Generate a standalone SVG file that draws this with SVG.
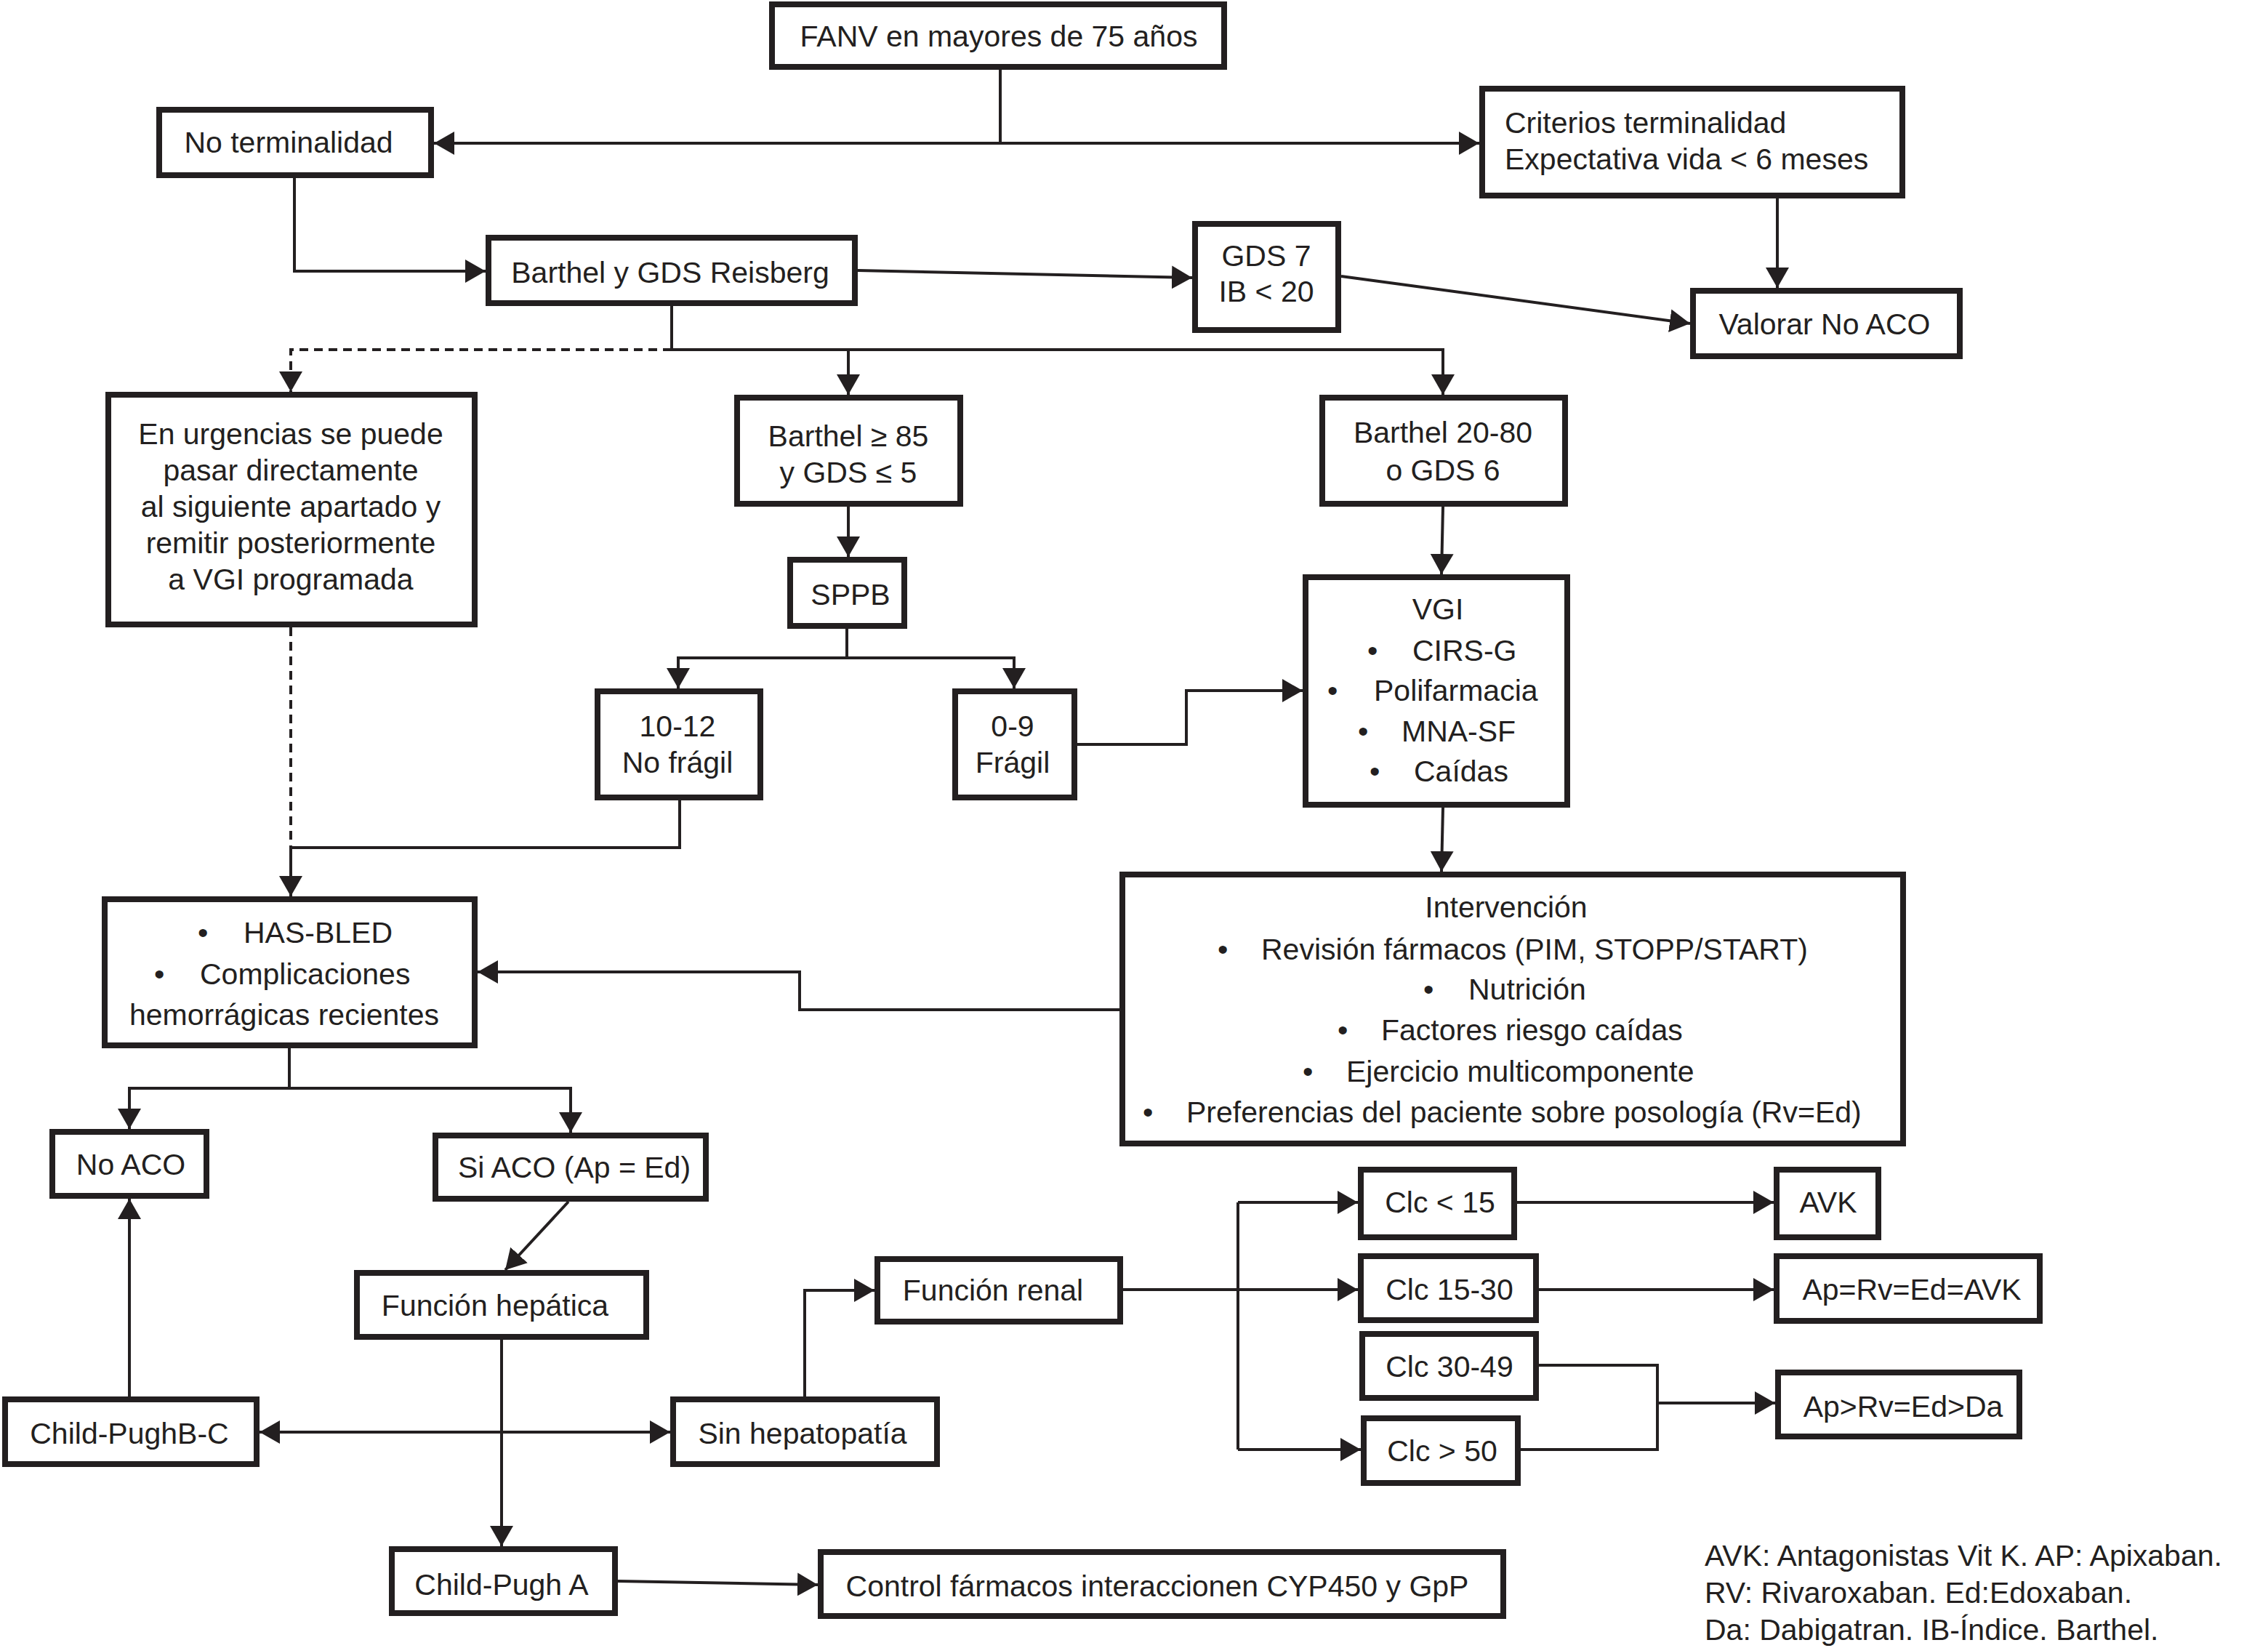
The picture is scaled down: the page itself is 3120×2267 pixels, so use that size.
<svg xmlns="http://www.w3.org/2000/svg" width="3120" height="2267" viewBox="0 0 3120 2267">
<style>
.b{fill:#fff;stroke:#231f20;stroke-width:8}
.t{font-family:"Liberation Sans",Arial,sans-serif;font-size:41px;fill:#231f20}
.c{text-anchor:middle}
.l{fill:none;stroke:#231f20;stroke-width:4}
.a{marker-end:url(#ar)}
.d{stroke-dasharray:12 8}
</style>
<defs>
<marker id="ar" markerUnits="userSpaceOnUse" markerWidth="28" markerHeight="32" refX="28" refY="16" orient="auto-start-reverse">
<path d="M0,0 L28,16 L0,32 Z" fill="#231f20"/>
</marker>
</defs>
<rect width="3120" height="2267" fill="#fff"/>
<g id="connectors">
<path class="l" d="M1376,96 V197"/>
<path class="l a" style="marker-start:url(#ar)" d="M597,197 H2035"/>
<path class="l a" d="M405,245 V373 H668"/>
<path class="l a" d="M1180,372 L1640,382"/>
<path class="l a" d="M1845,380 L2325,445"/>
<path class="l a" d="M2445,273 V396"/>
<path class="l" d="M924,421 V481"/>
<path class="l a" d="M924,481 H1985 V543"/>
<path class="l a" d="M1167,481 V543"/>
<path class="l d a" d="M924,481 H400 V539"/>
<path class="l a" d="M1167,697 V766"/>
<path class="l" d="M1165,865 V905"/>
<path class="l a" d="M1165,905 H933 V947"/>
<path class="l a" d="M1165,905 H1395 V947"/>
<path class="l a" d="M1482,1024 H1632 V950 H1792"/>
<path class="l a" d="M1985,697 L1983,790"/>
<path class="l a" d="M1985,1111 L1983,1199"/>
<path class="l d" d="M400,863 V1166"/>
<path class="l" d="M935,1101 V1166 H400"/>
<path class="l a" d="M400,1166 V1233"/>
<path class="l a" d="M1540,1389 H1100 V1337 H657"/>
<path class="l" d="M398,1442 V1497"/>
<path class="l a" d="M398,1497 H178 V1553"/>
<path class="l a" d="M398,1497 H785 V1558"/>
<path class="l a" d="M178,1921 V1649"/>
<path class="l a" d="M782,1653 L695,1747"/>
<path class="l a" d="M690,1843 V2127"/>
<path class="l a" style="marker-start:url(#ar)" d="M357,1970 H922"/>
<path class="l a" d="M1107,1921 V1775 H1203"/>
<path class="l a" d="M850,2175 L1125,2180"/>
<path class="l a" d="M1545,1774 H1868"/>
<path class="l" d="M1703,1654 V1994"/>
<path class="l a" d="M1703,1654 H1868"/>
<path class="l a" d="M1703,1994 H1872"/>
<path class="l a" d="M2087,1654 H2440"/>
<path class="l a" d="M2117,1774 H2440"/>
<path class="l" d="M2117,1878 H2280 V1994 H2092"/>
<path class="l a" d="M2280,1930 H2442"/>
</g>
<g id="fanv"><rect class="b" x="1062" y="6" width="622" height="86"/><text class="t c" x="1374" y="64">FANV en mayores de 75 años</text></g>
<g id="noterm"><rect class="b" x="219" y="151" width="374" height="90"/><text class="t c" x="397" y="210">No terminalidad</text></g>
<g id="criterios"><rect class="b" x="2039" y="122" width="578" height="147"/><text class="t" x="2070" y="183">Criterios terminalidad</text><text class="t" x="2070" y="233">Expectativa vida &lt; 6 meses</text></g>
<g id="gds7"><rect class="b" x="1644" y="308" width="197" height="146"/><text class="t c" x="1742" y="366">GDS 7</text><text class="t c" x="1742" y="415">IB &lt; 20</text></g>
<g id="valorar"><rect class="b" x="2329" y="400" width="367" height="90"/><text class="t c" x="2510" y="460">Valorar No ACO</text></g>
<g id="barthel"><rect class="b" x="672" y="327" width="504" height="90"/><text class="t c" x="922" y="389">Barthel y GDS Reisberg</text></g>
<g id="urgencias"><rect class="b" x="149" y="543" width="504" height="316"/>
<text class="t c" x="400" y="611">En urgencias se puede</text>
<text class="t c" x="400" y="661">pasar directamente</text>
<text class="t c" x="400" y="711">al siguiente apartado y</text>
<text class="t c" x="400" y="761">remitir posteriormente</text>
<text class="t c" x="400" y="811">a VGI programada</text></g>
<g id="barthel85"><rect class="b" x="1014" y="547" width="307" height="146"/><text class="t c" x="1167" y="614">Barthel ≥ 85</text><text class="t c" x="1167" y="664">y GDS ≤ 5</text></g>
<g id="barthel2080"><rect class="b" x="1819" y="547" width="334" height="146"/><text class="t c" x="1985" y="609">Barthel 20-80</text><text class="t c" x="1985" y="661">o GDS 6</text></g>
<g id="sppb"><rect class="b" x="1087" y="770" width="157" height="91"/><text class="t c" x="1170" y="832">SPPB</text></g>
<g id="nofragil"><rect class="b" x="822" y="951" width="224" height="146"/><text class="t c" x="932" y="1013">10-12</text><text class="t c" x="932" y="1063">No frágil</text></g>
<g id="fragil"><rect class="b" x="1314" y="951" width="164" height="146"/><text class="t c" x="1393" y="1013">0-9</text><text class="t c" x="1393" y="1063">Frágil</text></g>
<g id="vgi"><rect class="b" x="1796" y="794" width="360" height="313"/>
<text class="t c" x="1978" y="852">VGI</text>
<text class="t" x="1881" y="909">•</text><text class="t" x="1943" y="909">CIRS-G</text>
<text class="t" x="1826" y="964">•</text><text class="t" x="1890" y="964">Polifarmacia</text>
<text class="t" x="1868" y="1020">•</text><text class="t" x="1928" y="1020">MNA-SF</text>
<text class="t" x="1884" y="1075">•</text><text class="t" x="1945" y="1075">Caídas</text></g>
<g id="intervencion"><rect class="b" x="1544" y="1203" width="1074" height="370"/>
<text class="t c" x="2072" y="1262">Intervención</text>
<text class="t" x="1675" y="1320">•</text><text class="t" x="1735" y="1320">Revisión fármacos (PIM, STOPP/START)</text>
<text class="t" x="1958" y="1375">•</text><text class="t" x="2020" y="1375">Nutrición</text>
<text class="t" x="1840" y="1431">•</text><text class="t" x="1900" y="1431">Factores riesgo caídas</text>
<text class="t" x="1792" y="1488">•</text><text class="t" x="1852" y="1488">Ejercicio multicomponente</text>
<text class="t" x="1572" y="1544">•</text><text class="t" x="1632" y="1544">Preferencias del paciente sobre posología (Rv=Ed)</text></g>
<g id="hasbled"><rect class="b" x="144" y="1237" width="509" height="201"/>
<text class="t" x="272" y="1297">•</text><text class="t" x="335" y="1297">HAS-BLED</text>
<text class="t" x="212" y="1354">•</text><text class="t" x="275" y="1354">Complicaciones</text>
<text class="t c" x="391" y="1410">hemorrágicas recientes</text></g>
<g id="noaco"><rect class="b" x="72" y="1557" width="212" height="88"/><text class="t c" x="180" y="1616">No ACO</text></g>
<g id="siaco"><rect class="b" x="599" y="1562" width="372" height="87"/><text class="t c" x="790" y="1620">Si ACO (Ap = Ed)</text></g>
<g id="hepatica"><rect class="b" x="491" y="1751" width="398" height="88"/><text class="t c" x="681" y="1810">Función hepática</text></g>
<g id="childbc"><rect class="b" x="7" y="1925" width="346" height="89"/><text class="t c" x="178" y="1986">Child-PughB-C</text></g>
<g id="sinhep"><rect class="b" x="926" y="1925" width="363" height="89"/><text class="t c" x="1104" y="1986">Sin hepatopatía</text></g>
<g id="renal"><rect class="b" x="1207" y="1732" width="334" height="86"/><text class="t c" x="1366" y="1789">Función renal</text></g>
<g id="childa"><rect class="b" x="539" y="2131" width="307" height="88"/><text class="t c" x="690" y="2194">Child-Pugh A</text></g>
<g id="control"><rect class="b" x="1129" y="2135" width="939" height="88"/><text class="t c" x="1592" y="2196">Control fármacos interaccionen CYP450 y GpP</text></g>
<g id="clc15"><rect class="b" x="1872" y="1609" width="211" height="93"/><text class="t c" x="1981" y="1668">Clc &lt; 15</text></g>
<g id="avk"><rect class="b" x="2444" y="1609" width="140" height="93"/><text class="t c" x="2515" y="1668">AVK</text></g>
<g id="clc1530"><rect class="b" x="1872" y="1728" width="241" height="88"/><text class="t c" x="1994" y="1788">Clc 15-30</text></g>
<g id="aprvedavk"><rect class="b" x="2444" y="1728" width="362" height="89"/><text class="t c" x="2630" y="1788">Ap=Rv=Ed=AVK</text></g>
<g id="clc3049"><rect class="b" x="1874" y="1835" width="239" height="88"/><text class="t c" x="1994" y="1894">Clc 30-49</text></g>
<g id="clc50"><rect class="b" x="1876" y="1951" width="212" height="89"/><text class="t c" x="1984" y="2010">Clc &gt; 50</text></g>
<g id="aprvedda"><rect class="b" x="2446" y="1888" width="332" height="88"/><text class="t c" x="2618" y="1949">Ap&gt;Rv=Ed&gt;Da</text></g>
<g id="legend">
<text class="t" x="2345" y="2154">AVK: Antagonistas Vit K. AP: Apixaban.</text>
<text class="t" x="2345" y="2205">RV: Rivaroxaban. Ed:Edoxaban.</text>
<text class="t" x="2345" y="2256">Da: Dabigatran. IB-Índice. Barthel.</text>
</g>
</svg>
